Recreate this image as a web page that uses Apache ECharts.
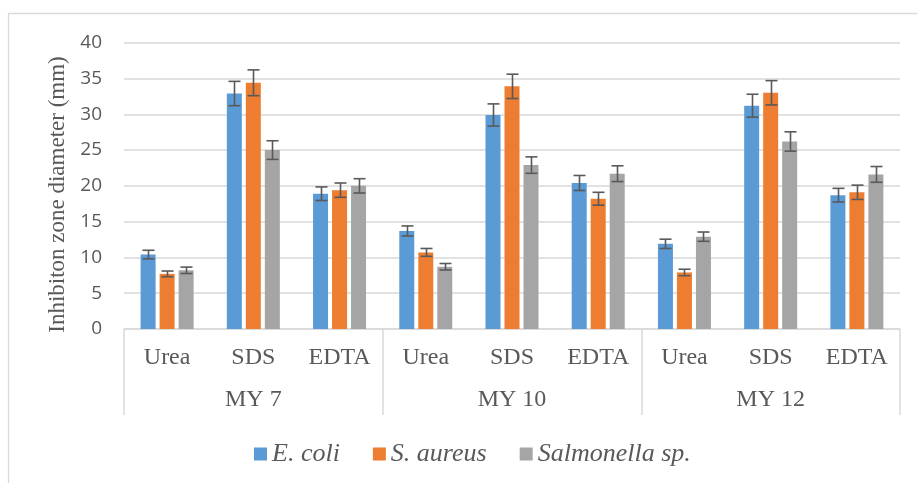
<!DOCTYPE html>
<html>
<head>
<meta charset="utf-8">
<script src="https://cdn.jsdelivr.net/npm/echarts@6/dist/echarts.min.js"></script>
<style>
html,body{margin:0;padding:0;background:#fff;}
#chart{width:917px;height:483px;}
</style>
</head>
<body>
<div id="chart"></div>
<script>
var subCategories = ['Urea','SDS','EDTA','Urea','SDS','EDTA','Urea','SDS','EDTA'];
var groups = ['MY 7','MY 10','MY 12'];
var seriesNames = ['E. coli','S. aureus','Salmonella sp.'];
var ecoli = [10.4, 32.9, 18.9, 13.7, 29.9, 20.4, 11.9, 31.2, 18.7];
var ecoliErr = [0.6, 1.7, 0.95, 0.7, 1.55, 1.05, 0.65, 1.6, 0.95];
var saureus = [7.7, 34.4, 19.4, 10.7, 33.9, 18.2, 7.9, 33.0, 19.1];
var saureusErr = [0.4, 1.8, 1.0, 0.55, 1.7, 0.9, 0.45, 1.7, 1.0];
var salmonella = [8.2, 25.0, 20.0, 8.7, 22.9, 21.7, 12.9, 26.2, 21.6];
var salmonellaErr = [0.45, 1.3, 1.0, 0.45, 1.15, 1.1, 0.65, 1.35, 1.1];
var yTicks = [0, 5, 10, 15, 20, 25, 30, 35, 40];
var yTitle = 'Inhibiton zone diameter (mm)';

var colors = ['#5b9bd5', '#ed7d31', '#a5a5a5'];
var values = [ecoli, saureus, salmonella];
var errs = [ecoliErr, saureusErr, salmonellaErr];
var BAR_W = 15, BAR_GAP = 4;

var chart = echarts.init(document.getElementById('chart'), null, {renderer: 'canvas'});

function errSeries(k) {
  var data = values[k].map(function (v, i) { return [i, v - errs[k][i], v + errs[k][i]]; });
  return {
    type: 'custom',
    name: seriesNames[k] + ' err',
    xAxisIndex: 0,
    yAxisIndex: 0,
    z: 5,
    silent: true,
    data: data,
    encode: {x: 0, y: [1, 2]},
    renderItem: function (params, api) {
      var off = (k - 1) * (BAR_W + BAR_GAP);
      var lo = api.coord([api.value(0), api.value(1)]);
      var hi = api.coord([api.value(0), api.value(2)]);
      var x = Math.round(lo[0] + off) + 0.5;
      var cw = 6;
      var st = {stroke: '#595959', lineWidth: 1.6, fill: null};
      return {
        type: 'group',
        children: [
          {type: 'line', shape: {x1: x, y1: lo[1], x2: x, y2: hi[1]}, style: st},
          {type: 'line', shape: {x1: x - cw, y1: lo[1], x2: x + cw, y2: lo[1]}, style: st},
          {type: 'line', shape: {x1: x - cw, y1: hi[1], x2: x + cw, y2: hi[1]}, style: st}
        ]
      };
    }
  };
}

var series = [];
for (var k = 0; k < 3; k++) {
  series.push({
    type: 'bar',
    name: seriesNames[k],
    xAxisIndex: 0,
    yAxisIndex: 0,
    data: values[k],
    barWidth: BAR_W,
    barGap: (BAR_GAP / BAR_W * 100) + '%',
    itemStyle: {color: colors[k]},
    z: 2
  });
}
for (var k2 = 0; k2 < 3; k2++) series.push(errSeries(k2));

var option = {
  animation: false,
  backgroundColor: '#ffffff',
  color: colors,
  grid: {left: 124, right: 17, top: 42.7, bottom: 154, containLabel: false},
  legend: {
    data: seriesNames,
    left: 249,
    top: 436,
    itemWidth: 13,
    itemHeight: 13,
    itemGap: 33,
    icon: 'rect',
    textStyle: {fontFamily: 'Liberation Serif', fontStyle: 'italic', fontSize: 26, color: '#595959'}
  },
  xAxis: [
    {
      type: 'category',
      data: subCategories,
      position: 'bottom',
      axisLine: {show: true, lineStyle: {color: '#d9d9d9', width: 1.5}},
      axisTick: {show: false},
      axisLabel: {fontFamily: 'Liberation Serif', fontSize: 24, color: '#595959', margin: 17, interval: 0},
      splitLine: {show: false}
    },
    {
      type: 'category',
      data: groups,
      position: 'bottom',
      axisLine: {show: false},
      axisTick: {show: true, length: 86, interval: 0, lineStyle: {color: '#d9d9d9', width: 1.5}},
      axisLabel: {fontFamily: 'Liberation Serif', fontSize: 24, color: '#595959', margin: 59, interval: 0},
      splitLine: {show: false}
    }
  ],
  yAxis: {
    type: 'value',
    min: yTicks[0],
    max: yTicks[yTicks.length - 1],
    interval: yTicks[1] - yTicks[0],
    axisLine: {show: false},
    axisTick: {show: false},
    axisLabel: {fontFamily: 'Open Sans', fontSize: 19, color: '#595959', margin: 22},
    splitLine: {show: true, lineStyle: {color: '#d9d9d9', width: 1.5}}
  },
  graphic: [
    {type: 'polyline', silent: true, shape: {points: [[8.5, 483], [8.5, 13.5], [917, 13.5]]}, style: {stroke: '#d9d9d9', lineWidth: 1.3, fill: null}},
    {type: 'text', silent: true, x: 58, y: 194.5, rotation: Math.PI / 2,
     style: {text: yTitle, fontFamily: 'Liberation Serif', fontSize: 23, fill: '#595959', align: 'center', verticalAlign: 'middle'}}
  ],
  series: series
};
chart.setOption(option);
</script>
</body>
</html>
